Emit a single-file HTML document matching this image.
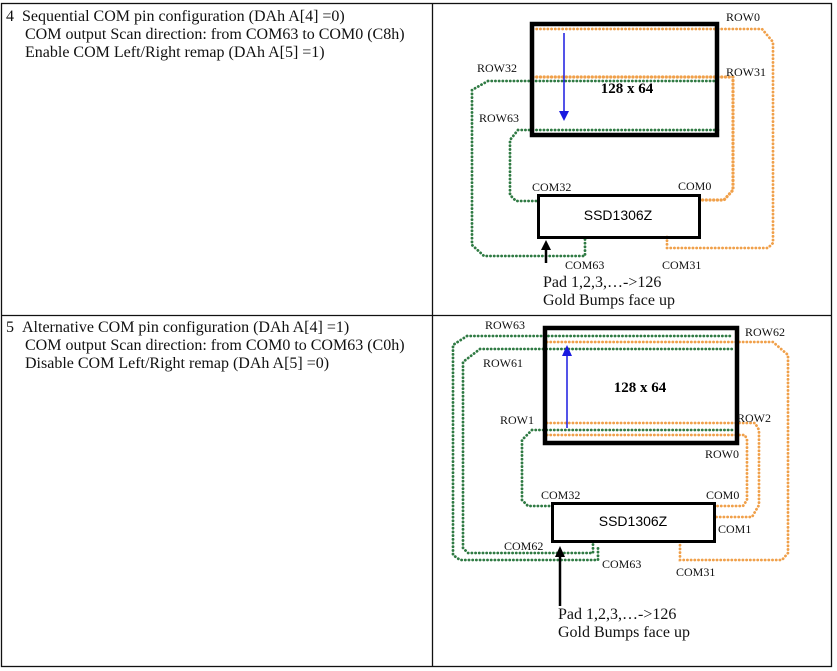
<!DOCTYPE html>
<html><head><meta charset="utf-8"><style>
html,body{margin:0;padding:0;background:#fff;width:837px;height:671px;overflow:hidden}
svg{position:absolute;left:0;top:0}
.t{font-family:"Liberation Serif",serif;font-size:16px;fill:#111}
.s{font-family:"Liberation Serif",serif;font-size:12px;fill:#111}
.o{fill:none;stroke:#f0a04a;stroke-width:2.8;stroke-dasharray:0.1 3.6;stroke-linecap:round}
.g{fill:none;stroke:#2f7a43;stroke-width:2.8;stroke-dasharray:0.1 3.6;stroke-linecap:round}
</style></head><body>
<svg width="837" height="671" viewBox="0 0 837 671">
<g stroke="#111" stroke-width="1.3" fill="none">
<rect x="1.5" y="3.5" width="830" height="663"/>
<line x1="432.5" y1="3" x2="432.5" y2="667"/>
<line x1="1" y1="315.5" x2="832" y2="315.5"/>
</g>
<text class="t" x="6" y="21">4&#160;&#160;Sequential COM pin configuration (DAh A[4] =0)</text>
<text class="t" x="25" y="39">COM output Scan direction: from COM63 to COM0 (C8h)</text>
<text class="t" x="25" y="57">Enable COM Left/Right remap (DAh A[5] =1)</text>
<text class="t" x="6" y="332">5&#160;&#160;Alternative COM pin configuration (DAh A[4] =1)</text>
<text class="t" x="25" y="350">COM output Scan direction: from COM0 to COM63 (C0h)</text>
<text class="t" x="25" y="368">Disable COM Left/Right remap (DAh A[5] =0)</text>

<path class="o" d="M533 29 H762 L773 42 V243 L768 248 H667 V237"/>
<path class="o" d="M533 77 H733 V190 L724 200 H700" style="stroke-width:3.2"/>
<path class="g" d="M488 81 H720 M488 81 L472 90 V245 L484 256 H585 V237"/>
<path class="g" d="M518 130 H720 M518 130 L510 140 V195 L516 201 H537"/>
<rect x="532" y="24" width="185" height="111" fill="none" stroke="#000" stroke-width="4.5"/>
<rect x="538.5" y="195.5" width="161" height="42" fill="none" stroke="#000" stroke-width="3"/>
<line x1="564" y1="33" x2="564" y2="112" stroke="#1a1ae0" stroke-width="1.5"/>
<polygon points="559,111 569,111 564,121" fill="#1a1ae0"/>
<line x1="546" y1="263" x2="546" y2="248" stroke="#000" stroke-width="2.5"/>
<polygon points="541,250 551,250 546,240" fill="#000"/>
<text class="s" x="726" y="21">ROW0</text>
<text class="s" x="477" y="72">ROW32</text>
<text class="s" x="726" y="76">ROW31</text>
<text class="s" x="479" y="122">ROW63</text>
<text x="627" y="93" text-anchor="middle" style="font-family:'Liberation Serif',serif;font-weight:bold;font-size:15px">128 x 64</text>
<text class="s" x="532" y="191">COM32</text>
<text class="s" x="678" y="190">COM0</text>
<text x="618" y="220" text-anchor="middle" style="font-family:'Liberation Sans',sans-serif;font-size:14px">SSD1306Z</text>
<text class="s" x="565" y="269">COM63</text>
<text class="s" x="662" y="269">COM31</text>
<text class="t" x="543" y="287">Pad 1,2,3,…-&gt;126</text>
<text class="t" x="543" y="305">Gold Bumps face up</text>

<path class="g" d="M467 336 H733 M467 336 L453 345 V555 L460 560 H598 V545"/>
<path class="o" d="M547 342 H773 L788 355 V553 L782 560 H680 V543"/>
<path class="g" d="M480 349 H733 M480 349 L463 362 V548 L468 553 H593 V544"/>
<path class="o" d="M547 423 H755 L759 430 V505 L752 517 H716"/>
<path class="g" d="M532 430 H735 M532 430 L522 440 V500 L528 506 H550"/>
<path class="o" d="M547 435 H745 L747 440 V500 L743 506 H716"/>
<rect x="545" y="328" width="192" height="115" fill="none" stroke="#000" stroke-width="4.5"/>
<rect x="552.5" y="503.5" width="162" height="38" fill="none" stroke="#000" stroke-width="3"/>
<line x1="567" y1="428" x2="567" y2="354" stroke="#1a1ae0" stroke-width="1.5"/>
<polygon points="562,356 572,356 567,345" fill="#1a1ae0"/>
<line x1="560" y1="606" x2="560" y2="555" stroke="#000" stroke-width="2.5"/>
<polygon points="555,557 565,557 560,546" fill="#000"/>
<text class="s" x="485" y="329">ROW63</text>
<text class="s" x="745" y="336">ROW62</text>
<text class="s" x="483" y="367">ROW61</text>
<text x="640" y="392" text-anchor="middle" style="font-family:'Liberation Serif',serif;font-weight:bold;font-size:15px">128 x 64</text>
<text class="s" x="500" y="424">ROW1</text>
<text class="s" x="737" y="422">ROW2</text>
<text class="s" x="705" y="458">ROW0</text>
<text class="s" x="541" y="499">COM32</text>
<text class="s" x="706" y="499">COM0</text>
<text x="633" y="526" text-anchor="middle" style="font-family:'Liberation Sans',sans-serif;font-size:14px">SSD1306Z</text>
<text class="s" x="718" y="533">COM1</text>
<text class="s" x="504" y="550">COM62</text>
<text class="s" x="602" y="568">COM63</text>
<text class="s" x="676" y="576">COM31</text>
<text class="t" x="558" y="619">Pad 1,2,3,…-&gt;126</text>
<text class="t" x="558" y="637">Gold Bumps face up</text>
</svg>
</body></html>
